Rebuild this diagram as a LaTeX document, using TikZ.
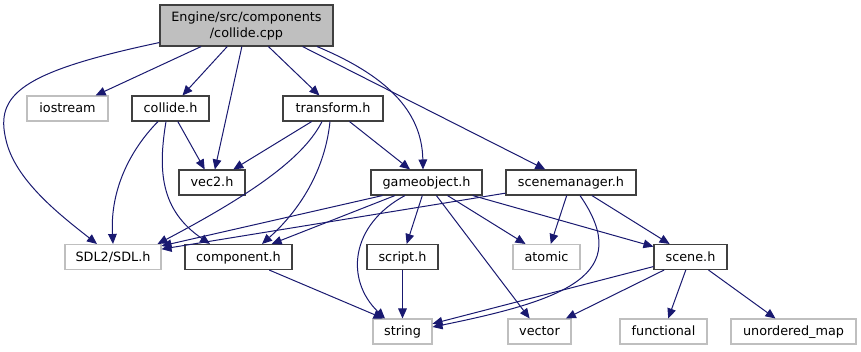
\documentclass[tikz,border=0pt]{standalone}
\usepackage{fontspec}
\setmainfont{DejaVu Sans}
\usepackage{xcolor}
\usetikzlibrary{arrows.meta, calc}

\definecolor{edgeblue}{RGB}{25,25,112}

\begin{document}
\begin{tikzpicture}[
  x=0.75pt, y=-0.75pt,
  font=\fontsize{9.6}{12}\selectfont,
  box/.style={rectangle, inner sep=0pt, line width=0.8pt,
              minimum height=18.75pt, text height=7.6pt, text depth=1.2pt},
  root/.style={rectangle, inner sep=0pt, line width=0.8pt, align=center,
               draw=black!75, fill=black!25, minimum height=30.75pt},
  hdr/.style={box, draw=black!75, fill=white},
  sys/.style={box, draw=black!25, fill=white},
  ar/.style={-{Triangle[length=7.5pt, width=6.5pt]}, draw=edgeblue,
             line width=0.75pt}
]
\useasboundingbox (0,0) rectangle (861,351);

% source file
\node[root, minimum width=129.75pt] (cpp) at (246.5,25.5)
     {Engine/src/components\\/collide.cpp};

% first row of includes
\node[sys, minimum width=60.75pt] (iostream)  at (67.5,108.5) {iostream};
\node[hdr, minimum width=57.75pt] (collide)   at (170.5,108.5) {collide.h};
\node[hdr, minimum width=75pt]    (transform) at (333,108.5) {transform.h};

% second row
\node[hdr, minimum width=49.5pt]  (vec2)         at (212,182.5) {vec2.h};
\node[hdr, minimum width=83.25pt] (gameobject)   at (426.5,182.5) {gameobject.h};
\node[hdr, minimum width=97.5pt]  (scenemanager) at (571,182.5) {scenemanager.h};

% third row
\node[sys, minimum width=72pt]    (SDL)       at (113,257) {SDL2/SDL.h};
\node[hdr, minimum width=80.25pt] (component) at (238.5,257) {component.h};
\node[hdr, minimum width=53.25pt] (script)    at (402.5,257) {script.h};
\node[sys, minimum width=50.25pt] (atomic)    at (546.5,257) {atomic};
\node[hdr, minimum width=54.75pt] (scene)     at (690.5,257) {scene.h};

% standard library
\node[sys, minimum width=44.25pt] (string)     at (402.5,331.5) {string};
\node[sys, minimum width=47.25pt] (vector)     at (539.5,331.5) {vector};
\node[sys, minimum width=65.25pt] (functional) at (663.5,331.5) {functional};
\node[sys, minimum width=93.75pt] (unordered)  at (793.5,331.5) {unordered\_map};

% edges out of collide.cpp
\draw[ar] ($(cpp.south west)+(0,-4)$) .. controls (20,72) and (-5,95) .. (6,140)
          .. controls (15,180) and (60,215) .. ($(SDL.north)+(-16,0)$);
\draw[ar] (cpp) -- (iostream);
\draw[ar] (cpp) -- (collide);
\draw[ar] (cpp) -- (vec2);
\draw[ar] (cpp) -- (transform);
\draw[ar] ($(cpp.south)+(70.5,0)$) .. controls (385,75) and (422,110)
          .. ($(gameobject.north)+(-3.5,0)$);
\draw[ar] ($(cpp.south)+(56,0)$) -- (scenemanager);

% collide.h
\draw[ar] ($(collide.south)+(-12.5,0)$) .. controls (130,150) and (110,190) .. (SDL.north);
\draw[ar] ($(collide.south)+(-4.5,0)$) .. controls (158,170) and (160,210)
          .. ($(component.north)+(-28.5,0)$);
\draw[ar] (collide) -- (vec2);

% transform.h
\draw[ar] (transform) -- (vec2);
\draw[ar] ($(transform.south)+(-11,0)$) .. controls (305,155) and (260,190)
          .. ($(SDL.north east)+(-4,0)$);
\draw[ar] ($(transform.south)+(-3,0)$) .. controls (325,170) and (300,210)
          .. ($(component.north)+(23.5,0)$);
\draw[ar] (transform) -- (gameobject);

% gameobject.h
\draw[ar] ($(gameobject.south)+(-44,0)$) -- (SDL);
\draw[ar] ($(gameobject.south)+(-31.5,0)$) -- (component);
\draw[ar] ($(gameobject.south)+(-21.5,0)$) .. controls (350,225) and (345,280)
          .. ($(string.north)+(-17.5,0)$);
\draw[ar] (gameobject) -- (script);
\draw[ar] (gameobject) -- (atomic);
\draw[ar] (gameobject) -- (vector);
\draw[ar] (gameobject) -- (scene);

% scenemanager.h
\draw[ar] (scenemanager) -- (SDL);
\draw[ar] (scenemanager) -- (atomic);
\draw[ar] ($(scenemanager.south)+(9,0)$) .. controls (635,275) and (565,300)
          .. ($(string.east)+(0,-4.5)$);
\draw[ar] (scenemanager) -- (scene);

% third row down to the std headers
\draw[ar] (component) -- ($(string.north)+(-19,0)$);
\draw[ar] (script) -- (string);
\draw[ar] (scene) -- (string);
\draw[ar] (scene) -- (vector);
\draw[ar] (scene) -- (functional);
\draw[ar] (scene) -- (unordered);
\end{tikzpicture}
\end{document}
